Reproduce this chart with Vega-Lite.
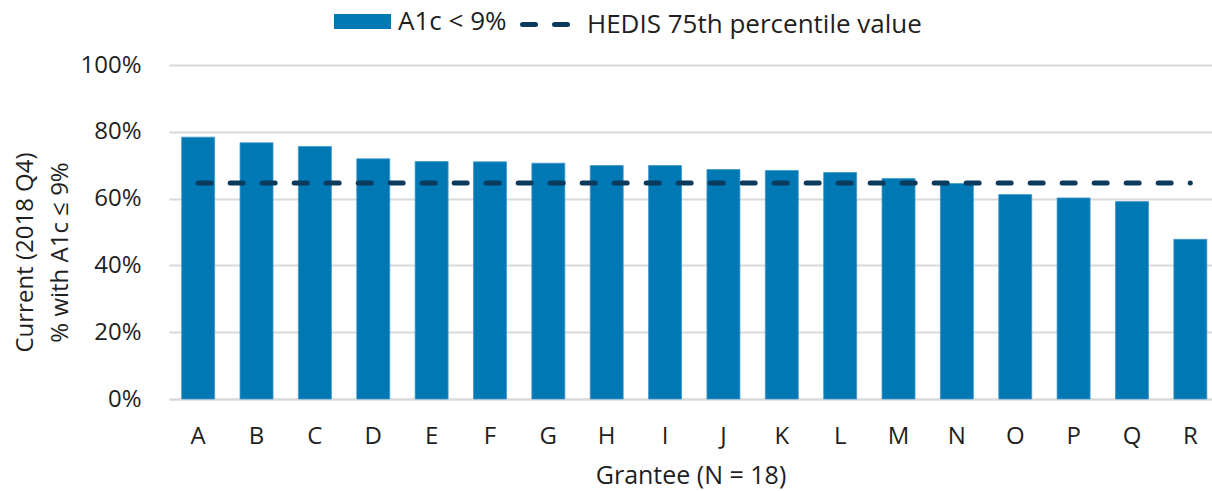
{
  "$schema": "https://vega.github.io/schema/vega-lite/v6.json",
  "autosize": {"type": "none"},
  "width": 1043,
  "height": 334,
  "padding": {"left": 169, "top": 65, "right": 0, "bottom": 92},
  "background": "white",
  "config": {
    "view": {"stroke": null},
    "font": "Open Sans",
    "axis": {"labelFont": "Open Sans", "titleFont": "Open Sans", "labelColor": "#1f1f1f", "titleColor": "#1f1f1f", "titleFontWeight": "normal"}
  },
  "data": {
    "values": [
      {"grantee": "A", "a1c": 0.784, "hedis": 0.647},
      {"grantee": "B", "a1c": 0.767, "hedis": 0.647},
      {"grantee": "C", "a1c": 0.756, "hedis": 0.647},
      {"grantee": "D", "a1c": 0.719, "hedis": 0.647},
      {"grantee": "E", "a1c": 0.711, "hedis": 0.647},
      {"grantee": "F", "a1c": 0.710, "hedis": 0.647},
      {"grantee": "G", "a1c": 0.706, "hedis": 0.647},
      {"grantee": "H", "a1c": 0.699, "hedis": 0.647},
      {"grantee": "I", "a1c": 0.699, "hedis": 0.647},
      {"grantee": "J", "a1c": 0.687, "hedis": 0.647},
      {"grantee": "K", "a1c": 0.684, "hedis": 0.647},
      {"grantee": "L", "a1c": 0.678, "hedis": 0.647},
      {"grantee": "M", "a1c": 0.660, "hedis": 0.647},
      {"grantee": "N", "a1c": 0.645, "hedis": 0.647},
      {"grantee": "O", "a1c": 0.612, "hedis": 0.647},
      {"grantee": "P", "a1c": 0.602, "hedis": 0.647},
      {"grantee": "Q", "a1c": 0.591, "hedis": 0.647},
      {"grantee": "R", "a1c": 0.478, "hedis": 0.647}
    ]
  },
  "encoding": {
    "x": {
      "field": "grantee",
      "type": "nominal",
      "sort": null,
      "scale": {"paddingInner": 0.435, "paddingOuter": 0.153, "align": 0.71},
      "axis": {
        "title": "Grantee (N = 18)",
        "titleFontSize": 25,
        "titlePadding": 15,
        "labelAngle": 0,
        "labelFontSize": 24,
        "labelPadding": 25,
        "ticks": false,
        "domainColor": "#d9d9d9",
        "domainWidth": 2,
        "grid": false
      }
    }
  },
  "layer": [
    {
      "mark": {"type": "bar", "stroke": "#3f97cc", "strokeWidth": 0.8},
      "encoding": {
        "y": {
          "field": "a1c",
          "type": "quantitative",
          "scale": {"domain": [0, 1], "nice": false},
          "axis": {
            "title": ["Current (2018 Q4)", "% with A1c ≤ 9%"],
            "titleFontSize": 24,
            "titleLineHeight": 35,
            "titleAngle": -90,
            "titleBaseline": "middle",
            "titleAlign": "center",
            "titleX": -144,
            "titleY": 187,
            "format": ".0%",
            "values": [0, 0.2, 0.4, 0.6, 0.8, 1],
            "labelOverlap": false,
            "labelFontSize": 24,
            "labelPadding": 28,
            "ticks": false,
            "domain": false,
            "grid": true,
            "gridColor": "#d9d9d9",
            "gridWidth": 2
          }
        },
        "color": {
          "datum": "A1c < 9%",
          "type": "nominal",
          "scale": {"range": ["#0078b4"]},
          "legend": {
            "title": null,
            "orient": "none",
            "legendX": 165,
            "legendY": -72,
            "symbolType": "M-1,-0.26H1V0.26H-1Z",
            "symbolSize": 3249,
            "symbolStrokeWidth": 0,
            "labelFontSize": 26,
            "labelColor": "#1f1f1f",
            "labelOffset": 7,
            "labelLimit": 400
          }
        }
      }
    },
    {
      "mark": {"type": "line", "color": "#0b3b5c", "strokeWidth": 5, "strokeCap": "round"},
      "encoding": {
        "y": {"field": "hedis", "type": "quantitative"},
        "strokeDash": {
          "datum": "HEDIS 75th percentile value",
          "type": "nominal",
          "scale": {"range": [[13, 19]]},
          "legend": {
            "title": null,
            "orient": "none",
            "legendX": 351,
            "legendY": -72,
            "symbolType": "stroke",
            "symbolSize": 3364,
            "symbolStrokeWidth": 5,
            "symbolStrokeColor": "#0b3b5c",
            "labelFontSize": 26,
            "labelColor": "#1f1f1f",
            "labelOffset": 4,
            "labelLimit": 400,
            "encode": {"symbols": {"update": {"strokeCap": {"value": "round"}, "strokeDash": {"value": [12, 16]}}}}
          }
        }
      }
    }
  ]
}
